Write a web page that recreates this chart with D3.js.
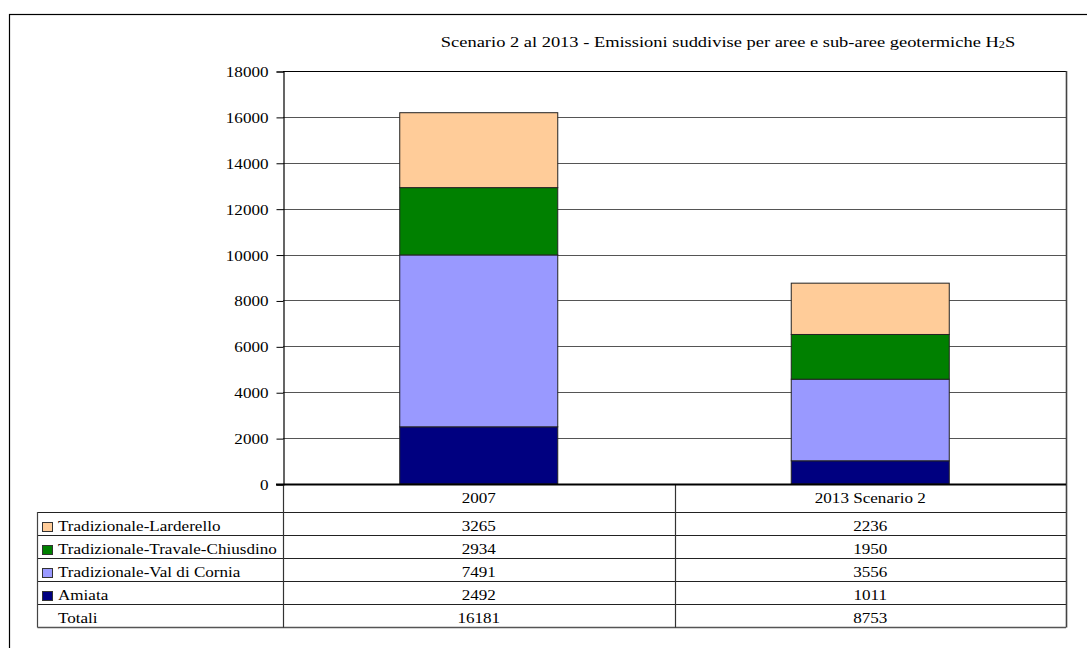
<!DOCTYPE html>
<html>
<head>
<meta charset="utf-8">
<script src="https://cdn.jsdelivr.net/npm/d3@7"></script>
<style>
  html, body { margin: 0; padding: 0; background: #fff; }
  svg { display: block; }
</style>
</head>
<body>
<svg id="chart" width="1087" height="648"></svg>
<script>
// Categories on the x axis
const categories = ["2007", "2013 Scenario 2"];
// Series, listed top of stack to bottom (same order as the data table)
const seriesNames = [
  "Tradizionale-Larderello",
  "Tradizionale-Travale-Chiusdino",
  "Tradizionale-Val di Cornia",
  "Amiata"
];
const larderello = [3265, 2236];
const travaleChiusdino = [2934, 1950];
const valDiCornia = [7491, 3556];
const amiata = [2492, 1011];
const totali = [16181, 8753];
const yTicks = [0, 2000, 4000, 6000, 8000, 10000, 12000, 14000, 16000, 18000];
const seriesColors = ["#FFCC99", "#008000", "#9999FF", "#000080"];

const seriesValues = [larderello, travaleChiusdino, valDiCornia, amiata];

const FONT = "'Liberation Serif', 'DejaVu Serif', serif";
const svg = d3.select("#chart").attr("font-family", FONT);
const sx = 1.22; // horizontal stretch of the lettering

// plot frame
const plot = { left: 283, right: 1066, top: 71, bottom: 484 };
const rowH = 23, headH = 28;
const tableLeft = 37.5;

const x = d3.scaleBand()
  .domain(categories)
  .range([plot.left, plot.right])
  .paddingInner(0.5964)
  .paddingOuter(0.2982);
const y = d3.scaleLinear().domain([0, 18000]).range([plot.bottom, plot.top]);

function label(g, tx, ty, str, anchor, size) {
  return g.append("g").attr("transform", `translate(${tx},${ty}) scale(${sx},1)`)
    .append("text")
    .attr("font-family", FONT)
    .attr("fill", "#000")
    .attr("text-anchor", anchor)
    .attr("font-size", size || 14)
    .text(str);
}

// outer chart border
svg.append("rect")
  .attr("x", 9.5).attr("y", 14.5).attr("width", 1080).attr("height", 700)
  .attr("fill", "none").attr("stroke", "#000").attr("stroke-width", 1.2);

// title
const title = svg.append("g").attr("transform", `translate(728,47) scale(1.23,1)`)
  .append("text").attr("font-family", FONT).attr("text-anchor", "middle").attr("font-size", 15);
title.append("tspan").text("Scenario 2 al 2013 - Emissioni suddivise per aree e sub-aree geotermiche H");
title.append("tspan").attr("font-size", 10).attr("dy", 1).text("2");
title.append("tspan").attr("dy", -1).text("S");

// gridlines
svg.append("g").selectAll("line")
  .data(yTicks.filter(d => d > 0))
  .join("line")
  .attr("x1", plot.left).attr("x2", plot.right)
  .attr("y1", d => Math.round(y(d)) + 0.5).attr("y2", d => Math.round(y(d)) + 0.5)
  .attr("stroke", "#555").attr("stroke-width", 1);

// y axis
const yAxis = svg.append("g")
  .attr("transform", `translate(${plot.left + 0.5},0.5)`)
  .call(d3.axisLeft(y).tickValues(yTicks).tickSize(7).tickPadding(6).tickFormat(d3.format("d")));
yAxis.select(".domain").attr("stroke", "#000").attr("stroke-width", 1.2);
yAxis.selectAll(".tick line").attr("stroke", "#000");
yAxis.selectAll(".tick text").remove();
yAxis.selectAll(".tick").each(function(d) {
  label(d3.select(this), -15, 5, String(d), "end", 14);
});

// stacked bars
const rows = categories.map((c, i) => {
  const r = { cat: c };
  seriesNames.forEach((s, k) => { r[s] = seriesValues[k][i]; });
  return r;
});
const stackKeys = seriesNames.slice().reverse(); // bottom first
const stacked = d3.stack().keys(stackKeys)(rows);
svg.append("g").selectAll("g")
  .data(stacked)
  .join("g")
  .attr("fill", d => seriesColors[seriesNames.indexOf(d.key)])
  .selectAll("rect")
  .data(d => d)
  .join("rect")
  .attr("x", d => x(d.data.cat))
  .attr("width", x.bandwidth())
  .attr("y", d => y(d[1]))
  .attr("height", d => y(d[0]) - y(d[1]))
  .attr("stroke", "#222").attr("stroke-width", 1);

// plot frame top
svg.append("line").attr("x1", plot.left).attr("x2", plot.right)
  .attr("y1", plot.top + 0.5).attr("y2", plot.top + 0.5).attr("stroke", "#000").attr("stroke-width", 1.2);

// data table
const tableTop = plot.bottom;
const tableBottom = tableTop + headH + rowH * 5;
const tg = svg.append("g");
const colEdges = [plot.left, plot.left + x.step(), plot.right];
const hLines = [tableTop + headH];
for (let i = 1; i <= 5; i++) hLines.push(tableTop + headH + rowH * i);
tg.selectAll("line.h").data(hLines).join("line")
  .attr("x1", tableLeft).attr("x2", plot.right)
  .attr("y1", d => Math.round(d) + 0.5).attr("y2", d => Math.round(d) + 0.5)
  .attr("stroke", (d, i) => i === 5 ? "#555" : "#222").attr("stroke-width", (d, i) => i === 5 ? 1.5 : 1);
tg.append("line").attr("x1", tableLeft).attr("x2", tableLeft)
  .attr("y1", tableTop + headH).attr("y2", tableBottom + 0.5).attr("stroke", "#444").attr("stroke-width", 1.2);
colEdges.forEach((cx, i) => {
  tg.append("line")
    .attr("x1", Math.round(cx) + 0.5).attr("x2", Math.round(cx) + 0.5)
    .attr("y1", i === 2 ? plot.top : tableTop).attr("y2", tableBottom + 0.5)
    .attr("stroke", i === 2 ? "#444" : "#333").attr("stroke-width", i === 2 ? 1.6 : 1.2);
});
// zero line (category axis)
tg.append("line").attr("x1", plot.left - 7).attr("x2", plot.right)
  .attr("y1", plot.bottom + 0.5).attr("y2", plot.bottom + 0.5).attr("stroke", "#000").attr("stroke-width", 2);

// header labels
categories.forEach(c => {
  label(tg, x(c) + x.bandwidth() / 2, tableTop + 19, c, "middle", 14);
});

// rows
const rowLabels = seriesNames.concat(["Totali"]);
const rowData = seriesValues.concat([totali]);
rowLabels.forEach((name, r) => {
  const top = tableTop + headH + rowH * r;
  if (r < seriesNames.length) {
    tg.append("rect")
      .attr("x", 42.5).attr("y", top + 10.5).attr("width", 10).attr("height", 9)
      .attr("fill", seriesColors[r]).attr("stroke", "#333").attr("stroke-width", 1);
  }
  label(tg, 58, top + 19, name, "start", 14);
  categories.forEach((c, i) => {
    label(tg, x(c) + x.bandwidth() / 2, top + 19, String(rowData[r][i]), "middle", 14);
  });
});
</script>
</body>
</html>
